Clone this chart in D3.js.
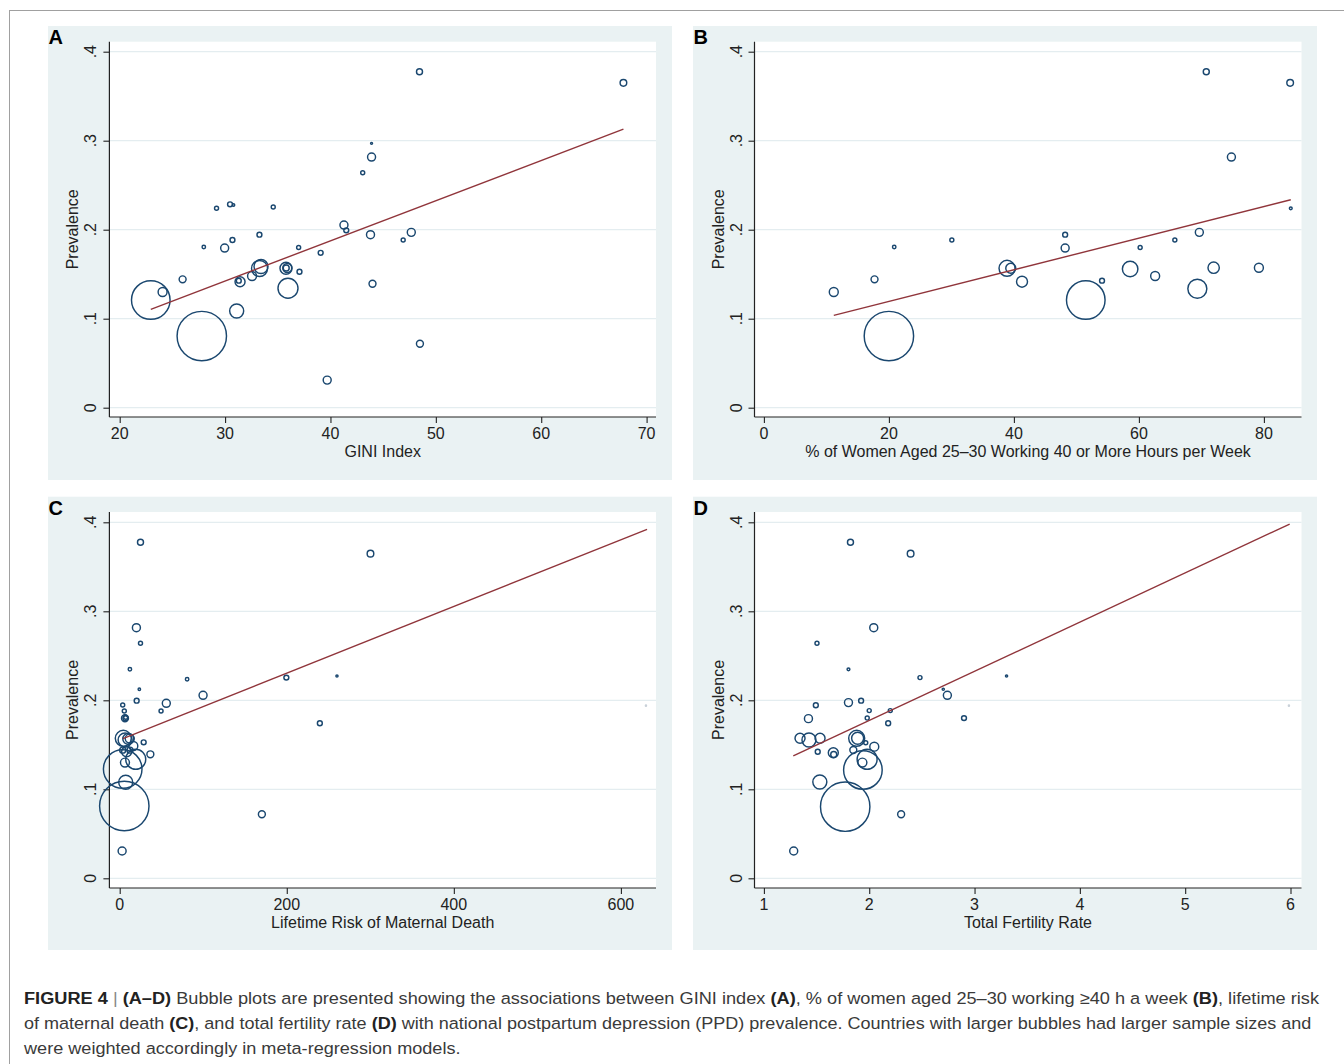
<!DOCTYPE html>
<html><head><meta charset="utf-8">
<script src="https://cdn.jsdelivr.net/npm/d3@7"></script>
<style>
body{margin:0;background:#fff;}
svg{display:block;font-family:"Liberation Sans",Arial,Helvetica,sans-serif;}
</style>
</head><body>
<svg id="c" width="1344" height="1064"></svg>
<script>
// ---------- DATA ----------
const yTickValues = [0, 0.1, 0.2, 0.3, 0.4];
const yTickLabels = ["0", ".1", ".2", ".3", ".4"];
const yTitle = "Prevalence";

// Panel A: GINI index
const giniTicks = [20, 30, 40, 50, 60, 70];
const giniX = [48.45,67.8,43.9,43.9,43.06,29.19,30.47,30.8,34.57,41.28,41.5,33.26,43.8,47.67,46.9,30.7,27.98,29.96,36.98,39.07,33.27,33.41,35.78,35.9,35.8,37.06,32.56,31.42,31.3,25.97,24.07,35.97,22.95,31.1,27.79,43.99,48.49,39.69];
const giniPrev = [0.3775,0.365,0.297,0.2816,0.264,0.224,0.2285,0.2277,0.2255,0.2052,0.1993,0.1944,0.1944,0.197,0.1884,0.1884,0.1805,0.1794,0.18,0.174,0.1564,0.1587,0.1566,0.157,0.157,0.1528,0.148,0.1416,0.1427,0.1442,0.13,0.1342,0.121,0.1087,0.0805,0.1393,0.0719,0.031];
const giniW = [9,11,1,16,4,4,6,1.5,4,16,6,6,16,16,4,6,3,16,4,6,64,49,36,20,9,6,20,25,6,12,20,100,372,49,610,12,12,16];
const giniFitX = [22.95, 67.8];
const giniFitY = [0.1105, 0.313];

// Panel B: % women 25-30 working >=40 h/week
const workTicks = [0, 20, 40, 60, 80];
const workX = [70.78,84.2,74.8,84.3,69.67,48.2,48.2,30.07,20.85,65.75,60.2,38.9,39.5,41.3,58.6,62.6,54.1,71.96,79.2,69.35,51.5,17.7,11.18,20.0];
const workPrev = [0.3775,0.365,0.2816,0.224,0.197,0.1944,0.1794,0.1884,0.1805,0.1884,0.18,0.1566,0.1566,0.1416,0.1558,0.148,0.1427,0.1573,0.1573,0.1337,0.121,0.1442,0.13,0.0805];
const workW = [9,11,16,2,16,6,16,4,3,4,4,64,25,30,60,20,6,32,20,90,372,12,20,610];
const workFitX = [11.18, 84.3];
const workFitY = [0.1037, 0.2337];

// Panel C: lifetime risk of maternal death
const mmrTicks = [0, 200, 400, 600];
const mmrX = [24.9,300.2,20.0,24.9,12.2,23.5,80.7,199.5,260.1,99.8,55.8,20.3,49.5,3.6,5.5,6.3,6.8,7.2,239.6,4.3,6.5,10.3,12.0,16.3,28.7,3.6,8.3,12.3,36.7,6.3,3.6,19.2,7.2,5.5,170.2,2.9,630];
const mmrPrev = [0.3775,0.3648,0.2816,0.264,0.2348,0.2124,0.2236,0.2255,0.2273,0.2056,0.1966,0.1996,0.188,0.1947,0.188,0.1798,0.1798,0.181,0.1742,0.1573,0.1555,0.1566,0.157,0.1487,0.1528,0.144,0.1423,0.144,0.1393,0.13,0.1228,0.1337,0.1079,0.0812,0.0719,0.0307,0.194];
const mmrW = [9,11,16,4,3,1.5,3,6,1.2,16,16,6,4,4,4,12,6,4,6,64,49,30,20,20,6,9,25,9,12,20,372,100,49,610,12,16,0.3];
const mmrFitX = [3.9, 631.3];
const mmrFitY = [0.1569, 0.3921];

// Panel D: total fertility rate
const tfrTicks = [1, 2, 3, 4, 5, 6];
const tfrX = [1.822,2.393,2.043,1.504,1.803,2.482,3.304,2.703,2.742,1.803,1.923,1.493,2.0,2.2,1.423,1.981,2.9,2.18,1.343,1.428,1.533,1.881,1.89,1.967,2.048,1.511,1.659,1.663,1.849,1.98,1.935,1.94,1.531,1.772,2.303,1.283,5.985];
const tfrPrev = [0.3775,0.3648,0.2816,0.264,0.2348,0.2255,0.2273,0.2124,0.2056,0.1974,0.1996,0.1944,0.1884,0.1884,0.1794,0.18,0.18,0.1742,0.1573,0.1554,0.1573,0.1573,0.1573,0.1524,0.1479,0.1422,0.1411,0.139,0.1442,0.1337,0.13,0.1217,0.1082,0.0805,0.0719,0.0307,0.194];
const tfrW = [9,11,16,4,2,4,1.2,1.2,16,16,6,6,4,4,16,4,6,6,25,49,25,64,36,4,20,6,25,9,12,100,20,372,49,610,12,16,0.3];
const tfrFitX = [1.279, 5.992];
const tfrFitY = [0.1375, 0.398];

const captionLines = [
  [["FIGURE 4", "b"], [" | ", "s"], ["(A\u2013D)", "b"], [" Bubble plots are presented showing the associations between GINI index ", "n"], ["(A)", "b"], [", % of women aged 25\u201330 working \u226540 h a week ", "n"], ["(B)", "b"], [", lifetime risk", "n"]],
  [["of maternal death ", "n"], ["(C)", "b"], [", and total fertility rate ", "n"], ["(D)", "b"], [" with national postpartum depression (PPD) prevalence. Countries with larger bubbles had larger sample sizes and", "n"]],
  [["were weighted accordingly in meta-regression models.", "n"]]
];

// ---------- LAYOUT ----------
const svg = d3.select("#c");
const NAVY = "#1a476f", MAROON = "#90353b", PANELBG = "#eaf2f3", GRID = "#e4edf0";

const panels = [
  {letter:"A", xs:giniX, ys:giniPrev, ws:giniW, fx:giniFitX, fy:giniFitY, ticks:giniTicks, title:"GINI Index",
   bg:[48,26,672,480], plot:[109.4,41.7,656,417], xmap:[20,70,119.7,646.6], ymap:[407.7,51.7]},
  {letter:"B", xs:workX, ys:workPrev, ws:workW, fx:workFitX, fy:workFitY, ticks:workTicks, title:"% of Women Aged 25\u201330 Working 40 or More Hours per Week",
   bg:[693,26,1317,480], plot:[754.5,41.7,1301.5,417], xmap:[0,80,763.9,1263.9], ymap:[407.7,51.7]},
  {letter:"C", xs:mmrX, ys:mmrPrev, ws:mmrW, fx:mmrFitX, fy:mmrFitY, ticks:mmrTicks, title:"Lifetime Risk of Maternal Death",
   bg:[48,496.7,672,950], plot:[109.4,512,656,888], xmap:[0,600,119.7,620.9], ymap:[878.3,522.3]},
  {letter:"D", xs:tfrX, ys:tfrPrev, ws:tfrW, fx:tfrFitX, fy:tfrFitY, ticks:tfrTicks, title:"Total Fertility Rate",
   bg:[693,496.7,1317,950], plot:[754.5,512,1301.5,888], xmap:[1,6,763.9,1290.5], ymap:[878.3,522.3]}
];

// outer frame
svg.append("rect").attr("x",9.5).attr("y",10.5).attr("width",1345).attr("height",1065)
  .attr("fill","none").attr("stroke","#a0a0a0").attr("stroke-width",1);

const rScale = d3.scaleSqrt().domain([0, 610]).range([0, 24.7]);

panels.forEach(p => {
  const g = svg.append("g");
  const [bx0,by0,bx1,by1] = p.bg;
  const [L,T,R,B] = p.plot;
  g.append("rect").attr("x",bx0).attr("y",by0).attr("width",bx1-bx0).attr("height",by1-by0).attr("fill",PANELBG);
  g.append("rect").attr("x",L).attr("y",T).attr("width",R-L).attr("height",B-T).attr("fill","#fff");

  const x = d3.scaleLinear().domain([p.xmap[0], p.xmap[1]]).range([p.xmap[2], p.xmap[3]]);
  const y = d3.scaleLinear().domain([0, 0.4]).range(p.ymap);

  // grid
  g.selectAll("line.grid").data(yTickValues).join("line")
    .attr("x1",L).attr("x2",R).attr("y1",d=>y(d)).attr("y2",d=>y(d))
    .attr("stroke",GRID).attr("stroke-width",1.3);

  // axes
  const yAxis = d3.axisLeft(y).tickValues(yTickValues).tickSize(6).tickFormat("");
  const ya = g.append("g").attr("transform",`translate(${L},0)`).call(yAxis);
  ya.select(".domain").remove();
  ya.selectAll("line").attr("stroke","#222").attr("stroke-width",1.1);
  g.append("line").attr("x1",L).attr("x2",L).attr("y1",T).attr("y2",B).attr("stroke","#222").attr("stroke-width",1.2);

  const xAxis = d3.axisBottom(x).tickValues(p.ticks).tickSize(6).tickFormat("");
  const xa = g.append("g").attr("transform",`translate(0,${B})`).call(xAxis);
  xa.select(".domain").remove();
  xa.selectAll("line").attr("stroke","#222").attr("stroke-width",1.1);
  g.append("line").attr("x1",L).attr("x2",R).attr("y1",B).attr("y2",B).attr("stroke","#222").attr("stroke-width",1.2);

  // y tick labels (rotated)
  g.selectAll("text.yt").data(yTickValues).join("text")
    .attr("transform",(d)=>`translate(${L-13},${y(d)}) rotate(-90)`)
    .attr("text-anchor","middle").attr("font-size",16).attr("fill","#222")
    .text((d,i)=>yTickLabels[i]);
  g.append("text").attr("transform",`translate(${L-31},${(T+B)/2}) rotate(-90)`)
    .attr("text-anchor","middle").attr("font-size",16).attr("fill","#222").text(yTitle);

  // x tick labels
  g.selectAll("text.xt").data(p.ticks).join("text")
    .attr("x",d=>x(d)).attr("y",B+22).attr("text-anchor","middle")
    .attr("font-size",16).attr("fill","#222").text(d=>d);
  g.append("text").attr("x",(L+R)/2).attr("y",B+40).attr("text-anchor","middle")
    .attr("font-size",16).attr("fill","#222").text(p.title);

  // panel letter
  g.append("text").attr("x",bx0+0.5).attr("y",by0+18).attr("font-size",20).attr("font-weight","bold")
    .attr("fill","#000").text(p.letter);

  // bubbles
  const pts = p.xs.map((v,i)=>({x:v, y:p.ys[i], w:p.ws[i]}));
  g.selectAll("circle").data(pts).join("circle")
    .attr("cx",d=>x(d.x)).attr("cy",d=>y(d.y)).attr("r",d=>rScale(d.w))
    .attr("fill","none").attr("stroke",d=>d.w<1?"#c8d0d8":NAVY).attr("stroke-width",1.45);

  // fitted line
  const line = d3.line().x(d=>x(d[0])).y(d=>y(d[1]));
  g.append("path").datum(p.fx.map((v,i)=>[v,p.fy[i]])).attr("d",line)
    .attr("fill","none").attr("stroke",MAROON).attr("stroke-width",1.4);
});

// caption
const capTargets = [1296, 1288, 437];
const capBase = [1004, 1029, 1054];
captionLines.forEach((segs, li) => {
  const gg = svg.append("g");
  const t = gg.append("text").attr("x",0).attr("y",0).attr("font-size",17).attr("fill","#3a3a3a");
  segs.forEach(([s,k]) => {
    const ts = t.append("tspan").text(s);
    if (k === "b") ts.attr("font-weight","bold").attr("fill","#222");
    if (k === "s") ts.attr("fill","#888");
  });
  const w = t.node().getComputedTextLength();
  const sx = capTargets[li] / w;
  gg.attr("transform",`translate(24,${capBase[li]}) scale(${sx},1)`);
});
</script>
</body></html>
